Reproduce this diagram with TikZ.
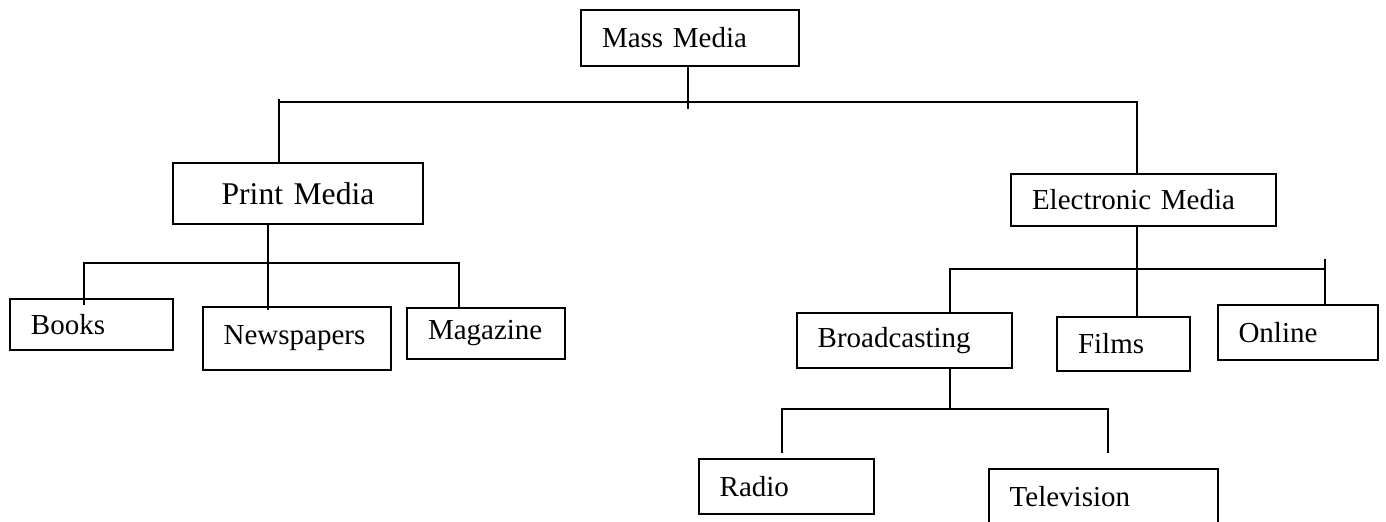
\documentclass[tikz,border=0pt]{standalone}
\usepackage{fontspec}
\setmainfont{Liberation Serif}

\begin{document}
\begin{tikzpicture}[x=0.5pt, y=-0.5pt, line width=1pt,
  mbox/.style={draw, anchor=north west, inner xsep=10.5pt, inner ysep=0pt,
    align=left, font=\fontsize{14.5}{17}\selectfont}]
  \useasboundingbox (0,0) rectangle (1386,521);
  % boxes
  \node[mbox, text width=88pt, minimum height=28pt] (mm) at (580,9) {Mass Media};
  \node[mbox, text width=104pt, minimum height=30.5pt, align=center,
    font=\fontsize{15.8}{19}\selectfont] (pm) at (172,162) {Print Media};
  \node[mbox, text width=111.3pt, minimum height=26.2pt] (em) at (1010,172.7) {Electronic Media};
  \node[mbox, text width=60.5pt, minimum height=25.7pt] (bk) at (9,297.7) {Books};
  \node[mbox, text width=73.2pt, minimum height=31.5pt] (np) at (201.6,306) {Newspapers};
  \node[mbox, text width=58pt, minimum height=25.5pt] (mg) at (406,306.7) {Magazine};
  \node[mbox, text width=86.5pt, minimum height=27.4pt] (bc) at (795.7,312) {Broadcasting};
  \node[mbox, text width=45.5pt, minimum height=27.2pt] (fm) at (1056,315.7) {Films};
  \node[mbox, text width=59.1pt, minimum height=27.4pt] (ol) at (1216.5,304) {Online};
  \node[mbox, text width=66.5pt, minimum height=27.5pt] (rd) at (697.7,457.7) {Radio};
  \node[mbox, text width=93.5pt, minimum height=27.5pt] (tv) at (987.7,468) {Television};
  % mass media -> print / electronic
  \coordinate (mmtick) at (688,109);
  \coordinate (busL) at (278.5,101.7);
  \coordinate (busR) at (1136.5,101.7);
  \coordinate (busLtop) at (278.5,98.7);
  \draw (mm.south -| mmtick) -- (mmtick);
  \draw (busLtop) -- (pm.north -| busL);
  \draw (busL) -- (busR) -- (em.north -| busR);
  % print media -> books, newspapers, magazine
  \coordinate (pbus) at (268,263.3);
  \coordinate (pbL) at (84,263.3);
  \coordinate (pbR) at (459,263.3);
  \coordinate (bkend) at (84,305);
  \coordinate (npend) at (268,310);
  \coordinate (mgend) at (459,309);
  \draw (pm.south -| pbus) -- (npend);
  \draw (bkend) -- (pbL) -- (pbR) -- (mgend);
  % electronic media -> broadcasting, films, online
  \coordinate (ebus) at (1136.5,269);
  \coordinate (ebL) at (950,269);
  \coordinate (ebR) at (1324.5,269);
  \coordinate (ebRtop) at (1324.5,259);
  \draw (em.south -| ebus) -- (fm.north -| ebus);
  \draw (bc.north -| ebL) -- (ebL) -- (ebR);
  \draw (ebRtop) -- (ol.north -| ebR);
  % broadcasting -> radio, television
  \coordinate (bbus) at (950,409);
  \coordinate (rdend) at (781.7,452.7);
  \coordinate (tvend) at (1108,452.5);
  \draw (bc.south -| bbus) -- (bbus);
  \draw (rdend) -- (rdend |- bbus) -- (tvend |- bbus) -- (tvend);
\end{tikzpicture}
\end{document}
